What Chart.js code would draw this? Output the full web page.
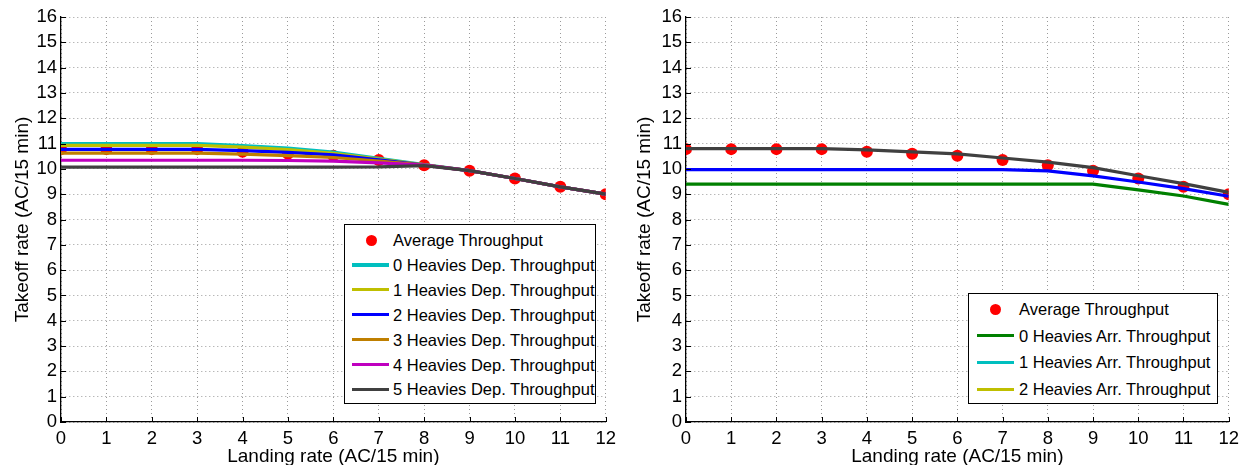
<!DOCTYPE html>
<html><head><meta charset="utf-8">
<script src="https://cdn.jsdelivr.net/npm/chart.js@4.4.1/dist/chart.umd.min.js"></script>
<style>
html,body{margin:0;padding:0;background:#fff;}
#wrap{position:relative;width:1245px;height:465px;overflow:hidden;font-family:"Liberation Sans",Arial,Helvetica,sans-serif;}
canvas{position:absolute;top:0;}
.legend{position:absolute;background:#fff;border:1.4px solid #000;box-sizing:border-box;overflow:hidden;white-space:nowrap;}
.row{position:absolute;left:0;height:20px;font-size:16.5px;line-height:20px;color:#000;}
.sample{position:absolute;top:8.5px;height:3.2px;}
.dot{position:absolute;top:4.5px;width:11px;height:11px;border-radius:50%;background:#f00;}
.txt{position:absolute;top:0;}
</style></head>
<body><div id="wrap">
<canvas id="c1" width="622" height="465" style="left:0"></canvas>
<canvas id="c2" width="623" height="465" style="left:622px"></canvas>
<div id="lg1" class="legend" style="left:344px;top:224px;width:252px;height:180px"></div>
<div id="lg2" class="legend" style="left:968px;top:293px;width:250px;height:111px"></div>
</div>
<script>
// ---- data ----
const landingRate = [0,1,2,3,4,5,6,7,8,9,10,11,12];
const avgThroughput = [10.78,10.78,10.78,10.78,10.68,10.6,10.52,10.35,10.14,9.93,9.62,9.29,9.0];
// left panel: departure throughput by number of heavies
const dep0 = [11.0,11.0,11.0,11.0,10.92,10.82,10.66,10.42,10.17,9.93,9.62,9.29,9.0];
const dep1 = [10.93,10.93,10.93,10.93,10.86,10.76,10.61,10.39,10.16,9.93,9.62,9.29,9.0];
const dep2 = [10.77,10.77,10.77,10.77,10.72,10.65,10.55,10.36,10.15,9.93,9.62,9.29,9.0];
const dep3 = [10.62,10.62,10.62,10.62,10.58,10.52,10.45,10.31,10.15,9.93,9.62,9.29,9.0];
const dep4 = [10.34,10.34,10.34,10.34,10.34,10.33,10.31,10.24,10.15,9.93,9.62,9.29,9.0];
const dep5 = [10.07,10.07,10.07,10.07,10.07,10.07,10.07,10.08,10.13,9.93,9.62,9.29,9.0];
// right panel: arrival throughput by number of heavies
const arr0 = [9.4,9.4,9.4,9.4,9.4,9.4,9.4,9.4,9.4,9.4,9.17,8.93,8.6];
const arr1 = [9.97,9.97,9.97,9.97,9.97,9.97,9.97,9.97,9.92,9.72,9.48,9.22,8.92];
const arr2 = [10.8,10.8,10.8,10.8,10.75,10.67,10.59,10.43,10.27,10.05,9.73,9.42,9.07];
const depLabels = ['0 Heavies Dep. Throughput','1 Heavies Dep. Throughput','2 Heavies Dep. Throughput','3 Heavies Dep. Throughput','4 Heavies Dep. Throughput','5 Heavies Dep. Throughput'];
const arrLabels = ['0 Heavies Arr. Throughput','1 Heavies Arr. Throughput','2 Heavies Arr. Throughput'];
const avgLabel = 'Average Throughput';
const xTitle = 'Landing rate (AC/15 min)';
const yTitle = 'Takeoff rate (AC/15 min)';

// ---- styles ----
const FONT = '"Liberation Sans", Arial, Helvetica, sans-serif';
const depColors = ['#00BFBF','#BFBF00','#0000FF','#BF7F00','#BF00BF','#404040'];
const arrLineColors = ['#008000','#0000FF','#404040'];
const arrLegendColors = ['#008000','#00BFBF','#BFBF00'];

const pts = ys => landingRate.map((x,i)=>({x:x,y:ys[i]}));
function avgDataset(){
  return {label:avgLabel,data:pts(avgThroughput),showLine:false,pointRadius:6,pointHoverRadius:6,
    pointBackgroundColor:'#FF0000',pointBorderWidth:0,borderColor:'#FF0000',order:20};
}
function lineDataset(label,ys,color,order){
  return {label:label,data:pts(ys),borderColor:color,backgroundColor:color,borderWidth:3.2,pointRadius:0,tension:0,fill:false,order:order};
}

const innerTicks = {
  id:'innerTicks',
  afterDraw(chart){
    const {ctx, chartArea:a, scales:{x,y}} = chart;
    ctx.save(); ctx.strokeStyle='#000'; ctx.lineWidth=1; ctx.setLineDash([]);
    ctx.beginPath();
    x.ticks.forEach(t=>{const px=Math.round(x.getPixelForValue(t.value))+0.5; ctx.moveTo(px,a.bottom); ctx.lineTo(px,a.bottom-5);});
    y.ticks.forEach(t=>{const py=Math.round(y.getPixelForValue(t.value))+0.5; ctx.moveTo(a.left,py); ctx.lineTo(a.left+5,py);});
    ctx.stroke(); ctx.restore();
  }
};

function makeChart(id, datasets, yWidth, rightPad){
  return new Chart(document.getElementById(id), {
    type:'line',
    data:{datasets:datasets},
    options:{
      responsive:false, animation:false, devicePixelRatio:1,
      layout:{padding:{top:17,right:rightPad,bottom:0,left:0}},
      plugins:{legend:{display:false},tooltip:{enabled:false}},
      scales:{
        x:{type:'linear',min:0,max:12,
          ticks:{stepSize:1,color:'#000',font:{size:18.5,family:FONT},padding:6,maxRotation:0},
          grid:{color:'#9a9a9a',drawTicks:false,lineWidth:1},
          border:{color:'#000',width:1.3,dash:[1,3]},
          title:{display:true,text:xTitle,color:'#000',font:{size:19,family:FONT},padding:{top:0,bottom:-3}},
          afterFit(s){s.height=43;}},
        y:{type:'linear',min:0,max:16,
          ticks:{stepSize:1,color:'#000',font:{size:18.5,family:FONT},padding:4},
          grid:{color:'#9a9a9a',drawTicks:false,lineWidth:1},
          border:{color:'#000',width:1.3,dash:[1,3]},
          title:{display:true,text:yTitle,color:'#000',font:{size:19,family:FONT},padding:{top:11,bottom:0}},
          afterFit(s){s.width=yWidth;}}
      }
    },
    plugins:[innerTicks]
  });
}

const leftSets = [avgDataset()].concat(depLabels.map((l,i)=>lineDataset(l,[dep0,dep1,dep2,dep3,dep4,dep5][i],depColors[i],10-i)));
const rightSets = [avgDataset()].concat(arrLabels.map((l,i)=>lineDataset(l,[arr0,arr1,arr2][i],arrLineColors[i],10-i)));
makeChart('c1', leftSets, 61, 16);
makeChart('c2', rightSets, 64, 15);

function buildLegend(el, items, first, step, lineL, lineW, dotX, textX){
  items.forEach((it,i)=>{
    const row=document.createElement('div'); row.className='row';
    row.style.top=(first+i*step-10)+'px'; row.style.width='100%';
    if(it.dot){const d=document.createElement('div');d.className='dot';d.style.left=(dotX-5.5)+'px';row.appendChild(d);}
    else{const s=document.createElement('div');s.className='sample';s.style.left=lineL+'px';s.style.width=lineW+'px';s.style.background=it.color;row.appendChild(s);}
    const t=document.createElement('span');t.className='txt';t.style.left=textX+'px';t.textContent=it.label;row.appendChild(t);
    el.appendChild(row);
  });
}
buildLegend(document.getElementById('lg1'),
  [{label:avgLabel,dot:true}].concat(depLabels.map((l,i)=>({label:l,color:depColors[i]}))),
  15, 24.9, 7, 37, 26, 48);
buildLegend(document.getElementById('lg2'),
  [{label:avgLabel,dot:true}].concat(arrLabels.map((l,i)=>({label:l,color:arrLegendColors[i]}))),
  15, 26.7, 8, 37, 26.5, 50);
</script>
</body></html>
